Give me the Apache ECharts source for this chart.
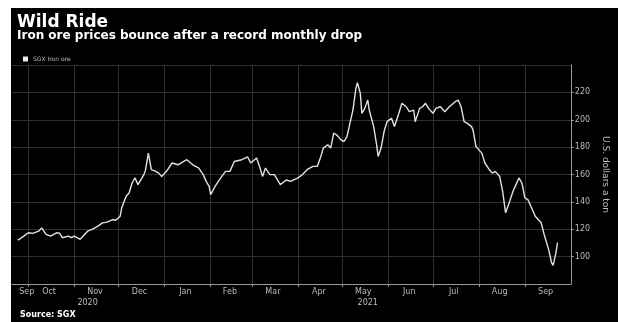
<!DOCTYPE html>
<html>
<head>
<meta charset="utf-8">
<script src="https://cdn.jsdelivr.net/npm/echarts@6.0.0/dist/echarts.min.js"></script>
<style>
    html, body { margin: 0; padding: 0; background: #fff; }
    #chart { position: absolute; left: 11px; top: 8px; width: 607px; height: 314px; background: #000; }
</style>
</head>
<body>
<div id="chart"></div>
<script>
// SGX iron ore, U.S. dollars a ton
var dates = [
    '2020-09-24', '2020-09-28', '2020-10-01', '2020-10-04', '2020-10-08', '2020-10-10', '2020-10-13', '2020-10-16',
    '2020-10-20', '2020-10-22', '2020-10-24', '2020-10-28', '2020-10-30', '2020-11-01', '2020-11-05', '2020-11-07',
    '2020-11-10', '2020-11-13', '2020-11-17', '2020-11-20', '2020-11-23', '2020-11-27', '2020-11-29', '2020-12-02',
    '2020-12-03', '2020-12-06', '2020-12-08', '2020-12-10', '2020-12-12', '2020-12-14', '2020-12-16', '2020-12-18',
    '2020-12-19', '2020-12-21', '2020-12-23', '2020-12-26', '2020-12-28', '2020-12-30', '2021-01-03', '2021-01-06',
    '2021-01-10', '2021-01-13', '2021-01-16', '2021-01-18', '2021-01-20', '2021-01-24', '2021-01-27', '2021-01-29',
    '2021-01-31', '2021-02-01', '2021-02-04', '2021-02-07', '2021-02-11', '2021-02-14', '2021-02-17', '2021-02-22',
    '2021-02-26', '2021-02-28', '2021-03-04', '2021-03-06', '2021-03-08', '2021-03-10', '2021-03-13', '2021-03-16',
    '2021-03-20', '2021-03-24', '2021-03-27', '2021-03-29', '2021-04-01', '2021-04-04', '2021-04-07', '2021-04-11',
    '2021-04-14', '2021-04-16', '2021-04-18', '2021-04-21', '2021-04-23', '2021-04-25', '2021-04-27', '2021-04-30',
    '2021-05-02', '2021-05-04', '2021-05-06', '2021-05-08', '2021-05-10', '2021-05-11', '2021-05-13', '2021-05-14',
    '2021-05-16', '2021-05-18', '2021-05-19', '2021-05-22', '2021-05-24', '2021-05-25', '2021-05-27', '2021-05-29',
    '2021-05-31', '2021-06-03', '2021-06-05', '2021-06-08', '2021-06-10', '2021-06-13', '2021-06-15', '2021-06-18',
    '2021-06-19', '2021-06-22', '2021-06-24', '2021-06-26', '2021-06-28', '2021-07-01', '2021-07-03', '2021-07-06',
    '2021-07-09', '2021-07-12', '2021-07-16', '2021-07-18', '2021-07-20', '2021-07-22', '2021-07-24', '2021-07-27',
    '2021-07-28', '2021-07-30', '2021-08-01', '2021-08-03', '2021-08-05', '2021-08-08', '2021-08-10', '2021-08-12',
    '2021-08-15', '2021-08-17', '2021-08-19', '2021-08-21', '2021-08-24', '2021-08-26', '2021-08-28', '2021-08-30',
    '2021-09-01', '2021-09-03', '2021-09-06', '2021-09-08', '2021-09-12', '2021-09-14', '2021-09-17', '2021-09-19',
    '2021-09-20', '2021-09-22', '2021-09-23'
];
var prices = [
    112.1, 115, 117.4, 117, 118.6, 121, 116.2, 115,
    117.4, 117.2, 113.8, 115, 113.8, 115, 112.6, 115,
    118.6, 119.9, 122.3, 124.7, 125.2, 127.1, 126.6, 129.5,
    135.6, 144.1, 146.5, 153.8, 157.5, 152.6, 156.2, 159.9,
    163, 175.6, 163.5, 162.3, 161, 158.6, 163.5, 168.4,
    167.1, 169, 170.8, 169, 167.1, 164.7, 159.9, 155,
    151.3, 145.3, 151.3, 156.2, 162.3, 162.3, 169.5, 170.8,
    172.8, 168.4, 172, 165.9, 158.6, 164.7, 159.9, 159.9,
    152.6, 156, 155, 156, 157.5, 160, 163.5, 165.9,
    166, 172, 179.3, 181.7, 179.3, 190.2, 189, 185.3,
    184.1, 187.7, 197.5, 207.1, 222.9, 227, 219.3, 204.7,
    208.3, 214.4, 207.1, 195, 181.7, 173.2, 179.3, 191.4,
    198.6, 201.1, 195, 204.7, 212, 209.5, 205.9, 207.1,
    198.6, 208.3, 209.5, 212, 208.3, 204.7, 208.3, 209.5,
    205.9, 209.5, 213.2, 214.4, 209.5, 198.6, 197.5, 195,
    192.6, 180.4, 178, 175.6, 168.4, 163.5, 161, 162.3,
    158.6, 147.7, 132, 138, 147.7, 152.6, 157.5, 153.8,
    142.9, 141.7, 134.4, 129.5, 124.7, 116.2, 105.3, 95.6,
    93.6, 102.9, 110.2
];

// month boundaries (grid lines) and month labels centred in each month
var monthStarts = ['2020-10-01', '2020-11-01', '2020-12-01', '2021-01-01', '2021-02-01', '2021-03-01',
    '2021-04-01', '2021-05-01', '2021-06-01', '2021-07-01', '2021-08-01', '2021-09-01'];
var monthNames = ['Sep', 'Oct', 'Nov', 'Dec', 'Jan', 'Feb', 'Mar', 'Apr', 'May', 'Jun', 'Jul', 'Aug', 'Sep'];
var monthLabelDates = ['2020-09-30', '2020-10-15', '2020-11-15', '2020-12-15', '2021-01-15', '2021-02-14',
    '2021-03-15', '2021-04-15', '2021-05-15', '2021-06-15', '2021-07-15', '2021-08-15', '2021-09-15'];
var yearNames = ['2020', '2021'];
var yearLabelDates = ['2020-11-10', '2021-05-18'];

function ts(s) {
    var p = s.split('-');
    return new Date(+p[0], +p[1] - 1, +p[2]).getTime();
}

var monthStartTs = monthStarts.map(ts);
var monthLabelTs = monthLabelDates.map(ts);
var yearLabelTs = yearLabelDates.map(ts);
var xMin = ts('2020-09-20');
var xMax = ts('2021-10-02');

var font = 'DejaVu Sans';
var axisGrey = '#9a9a9a';
var gridGrey = '#303030';

var myChart = echarts.init(document.getElementById('chart'));
var option = {
    backgroundColor: '#000',
    animation: false,
    textStyle: { fontFamily: font },
    title: [
        {
            text: 'Wild Ride',
            left: 1, top: 1,
            textStyle: { color: '#fff', fontSize: 17, fontWeight: 'bold', fontFamily: font }
        },
        {
            text: 'Iron ore prices bounce after a record monthly drop',
            left: 1, top: 17,
            textStyle: { color: '#fff', fontSize: 12, fontWeight: 'bold', fontFamily: font }
        },
        {
            text: 'Source: SGX',
            left: 4, top: 298,
            textStyle: { color: '#fff', fontSize: 8, fontWeight: 'bold', fontFamily: font }
        }
    ],
    legend: {
        left: 7, top: 43,
        icon: 'rect',
        itemWidth: 5, itemHeight: 5,
        itemGap: 3,
        textStyle: { color: '#bbb', fontSize: 6, fontFamily: font },
        data: ['SGX Iron ore']
    },
    grid: { left: 1, right: 42, top: 57, bottom: 38 },
    // value axes in milliseconds so the month ticks and labels can be placed by date
    xAxis: [
        {
            type: 'value',
            min: xMin, max: xMax,
            axisLine: { show: true, lineStyle: { color: axisGrey, width: 1 } },
            axisTick: { show: true, length: 3, customValues: monthStartTs, lineStyle: { color: axisGrey } },
            splitLine: { show: true, lineStyle: { color: gridGrey, width: 1 } },
            axisLabel: {
                customValues: monthLabelTs,
                color: '#bbb', fontSize: 8, margin: 4, fontFamily: font,
                formatter: function (v) {
                    var i = monthLabelTs.indexOf(v);
                    return i >= 0 ? monthNames[i] : '';
                }
            }
        },
        {
            type: 'value',
            min: xMin, max: xMax,
            position: 'bottom',
            axisLine: { show: false },
            axisTick: { show: false },
            splitLine: { show: false },
            axisLabel: {
                customValues: yearLabelTs,
                color: '#bbb', fontSize: 8, margin: 15, fontFamily: font,
                formatter: function (v) {
                    var i = yearLabelTs.indexOf(v);
                    return i >= 0 ? yearNames[i] : '';
                }
            }
        }
    ],
    yAxis: {
        type: 'value',
        position: 'right',
        min: 80, max: 240, interval: 20,
        name: 'U.S. dollars a ton',
        nameLocation: 'middle',
        nameRotate: -90,
        nameGap: 29,
        nameTextStyle: { color: '#bbb', fontSize: 9, fontFamily: font },
        axisLine: { show: true, lineStyle: { color: axisGrey, width: 1 } },
        axisTick: { show: true, length: 3, lineStyle: { color: axisGrey } },
        splitLine: { show: true, lineStyle: { color: gridGrey, width: 1 } },
        axisLabel: {
            color: '#bbb', fontSize: 8, margin: 4, fontFamily: font,
            showMinLabel: false, showMaxLabel: false
        }
    },
    series: [
        {
            name: 'SGX Iron ore',
            type: 'line',
            showSymbol: false,
            color: '#ececec',
            lineStyle: { color: '#e2e2e2', width: 1.4 },
            data: dates.map(function (d, i) { return [ts(d), prices[i]]; })
        }
    ]
};
myChart.setOption(option);
</script>
</body>
</html>
